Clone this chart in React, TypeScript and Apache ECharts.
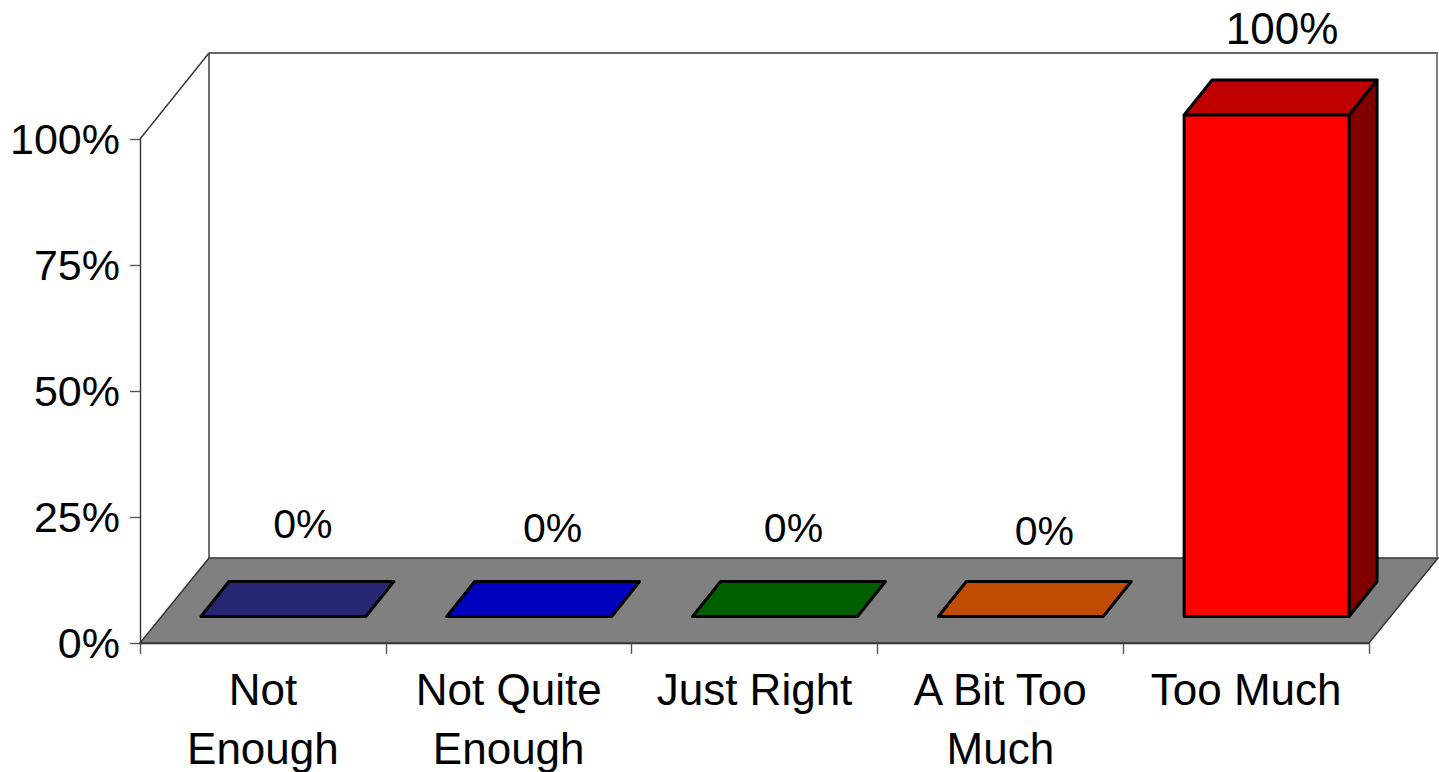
import React, { useEffect, useRef } from "react";
import * as echarts from "echarts";

const categories = ["Not\nEnough", "Not Quite\nEnough", "Just Right", "A Bit Too\nMuch", "Too Much"];
const values = [0, 0, 0, 0, 100];
const frontColors = ["#333399", "#0000FF", "#008000", "#FF6600", "#FF0000"];
const topColors = ["#262673", "#0000BF", "#006000", "#BF4C00", "#BF0000"];
const sideColors = ["#1A1A4D", "#000080", "#004000", "#803300", "#800000"];
const yTicks = { min: 0, max: 100, interval: 25 };

const FONT = '"Liberation Sans", Arial, sans-serif';
const FS = 44;
const DEPTH_X = 69;
const DEPTH_Y = 85;
const BASE_X = 20.5;
const BASE_Y = 26.5;
const BAR_DX = 28;
const BAR_DY = 35;
const BAR_RATIO = 0.671;
const H_SCALE = 0.995;
const labelShift: [number, number, number][] = [
  [-1, -93, 41],
  [3, -89, 41],
  [-2, -89, 41],
  [3, -86, 41],
  [-5, -86.5, 44],
];

function renderWalls(params: any) {
  const r = params.coordSys;
  const x0 = r.x, x1 = r.x + r.width, yTop = r.y, yBot = r.y + r.height;
  const line = (a: number[], b: number[], stroke = "#333333", lineWidth = 1.4) => ({
    type: "line",
    shape: { x1: a[0], y1: a[1], x2: b[0], y2: b[1] },
    style: { stroke, lineWidth },
  });
  return {
    type: "group",
    children: [
      {
        type: "polygon",
        shape: {
          points: [
            [x0, yBot],
            [x0 + DEPTH_X, yBot - DEPTH_Y],
            [x1 + DEPTH_X, yBot - DEPTH_Y],
            [x1, yBot],
          ],
        },
        style: { fill: "#808080", stroke: "#333333", lineWidth: 1.4 },
      },
      line([x0, yTop], [x0 + DEPTH_X, yTop - DEPTH_Y - 1]),
      line([x0 + DEPTH_X, yTop - DEPTH_Y - 1], [x1 + DEPTH_X, yTop - DEPTH_Y - 1]),
      line([x0 + DEPTH_X, yTop - DEPTH_Y - 1], [x0 + DEPTH_X, yBot - DEPTH_Y]),
      line([x1 + DEPTH_X - 1, yTop - DEPTH_Y - 1], [x1 + DEPTH_X - 1, yBot - DEPTH_Y], "#808080", 2),
    ],
  };
}

function renderBar(params: any, api: any) {
  const i = params.dataIndex;
  const v = api.value(1);
  const base = api.coord([i, 0]);
  const top = api.coord([i, v]);
  const band = api.size([1, 0])[0];
  const w = band * BAR_RATIO;
  const l = base[0] + BASE_X - w / 2;
  const r = l + w;
  const b = base[1] - BASE_Y;
  const t = b - (base[1] - top[1]) * H_SCALE;
  const edge = { stroke: "#000000", lineWidth: 3, lineJoin: "round" };
  const shift = labelShift[i];
  const children: any[] = [
    {
      type: "polygon",
      shape: { points: [[l, t], [l + BAR_DX, t - BAR_DY], [r + BAR_DX, t - BAR_DY], [r, t]] },
      style: { fill: topColors[i], ...edge },
    },
  ];
  if (v > 0) {
    children.push(
      {
        type: "polygon",
        shape: { points: [[r, t], [r + BAR_DX, t - BAR_DY], [r + BAR_DX, b - BAR_DY], [r, b]] },
        style: { fill: sideColors[i], ...edge },
      },
      {
        type: "polygon",
        shape: { points: [[l, t], [r, t], [r, b], [l, b]] },
        style: { fill: frontColors[i], ...edge },
      }
    );
  }
  children.push({
    type: "text",
    style: {
      x: l + w / 2 + BASE_X + shift[0],
      y: t + shift[1],
      text: `${v}%`,
      fill: "#000000",
      font: `${shift[2]}px ${FONT}`,
      align: "center",
      verticalAlign: "middle",
    },
  });
  return { type: "group", children };
}

export default function App() {
  const ref = useRef<HTMLDivElement>(null);
  useEffect(() => {
    document.body.style.margin = "0";
    const chart = echarts.init(ref.current!, undefined, { renderer: "svg" });
    chart.setOption({
      animation: false,
      backgroundColor: "#ffffff",
      grid: { left: 140, right: 70, top: 139, bottom: 129, outerBoundsMode: "none" },
      xAxis: {
        type: "category",
        data: categories,
        axisLine: { show: true, lineStyle: { color: "#333333", width: 1.4 } },
        axisTick: { show: true, alignWithLabel: false, length: 11, lineStyle: { color: "#555555", width: 1.4 } },
        axisLabel: {
          interval: 0,
          color: "#000000",
          fontFamily: FONT,
          fontSize: FS,
          lineHeight: 59,
          margin: 17,
        },
      },
      yAxis: {
        type: "value",
        min: yTicks.min,
        max: yTicks.max,
        interval: yTicks.interval,
        splitLine: { show: false },
        axisLine: { show: true, lineStyle: { color: "#333333", width: 1.4 } },
        axisTick: { show: true, length: 10, lineStyle: { color: "#555555", width: 1.4 } },
        axisLabel: {
          formatter: "{value}%",
          color: "#000000",
          fontFamily: FONT,
          fontSize: 43,
          margin: 20,
        },
      },
      series: [
        {
          type: "custom",
          silent: true,
          z: 1,
          clip: false,
          renderItem: renderWalls,
          data: [[0, 0]],
        },
        {
          type: "custom",
          silent: true,
          z: 2,
          clip: false,
          renderItem: renderBar,
          data: values.map((v, i) => [i, v]),
        },
      ],
    });
    return () => chart.dispose();
  }, []);
  return <div ref={ref} style={{ position: "absolute", left: 0, top: 0, width: 1439, height: 772 }} />;
}
